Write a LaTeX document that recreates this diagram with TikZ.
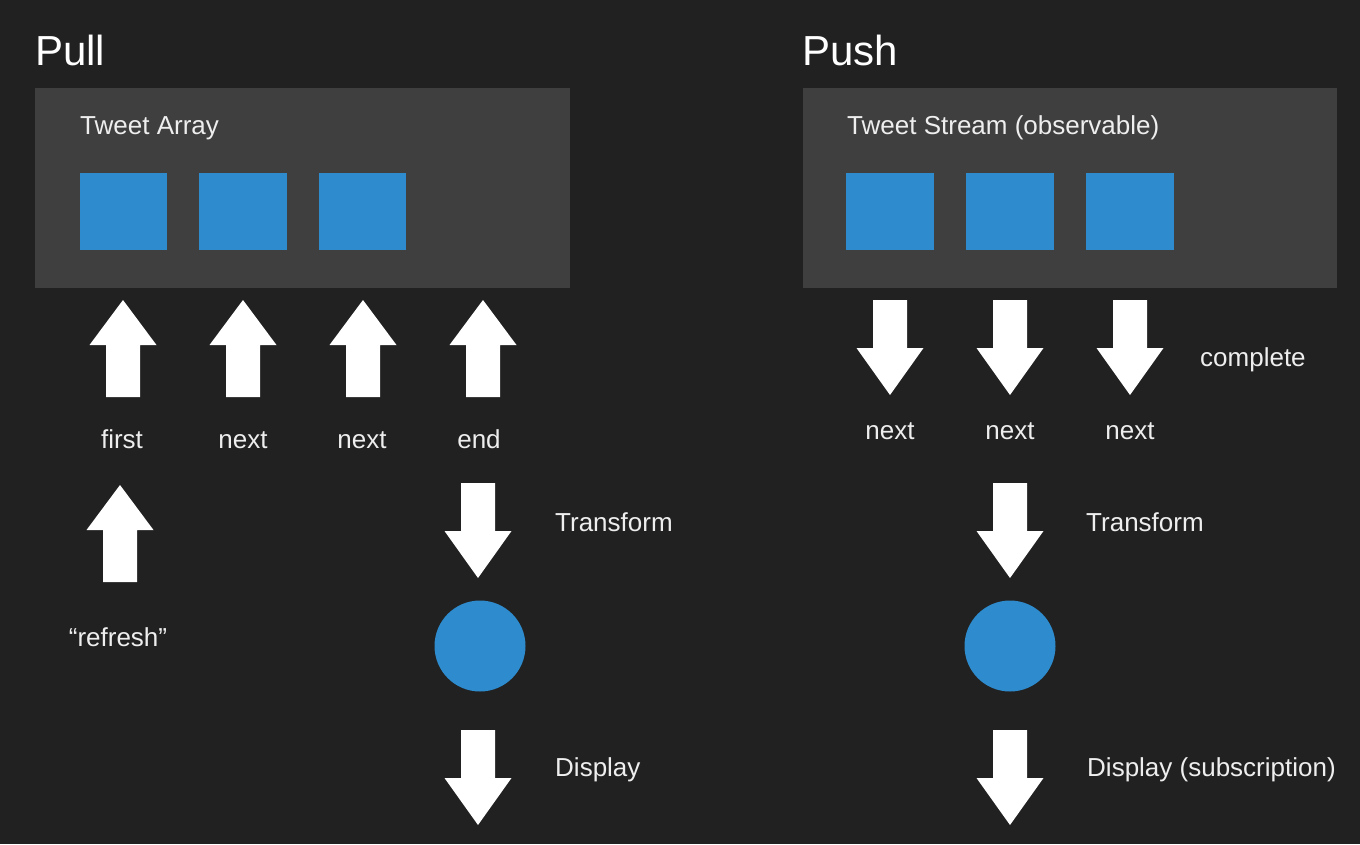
\documentclass[tikz,border=0pt]{standalone}
\usepackage{fontspec}
\setmainfont{Liberation Sans}
\definecolor{bgc}{RGB}{33,33,33}
\definecolor{panelc}{RGB}{63,63,63}
\definecolor{bluec}{RGB}{46,139,205}
\definecolor{txtc}{RGB}{238,238,238}
\begin{document}
\begin{tikzpicture}[x=1pt,y=-1pt,
  panel/.style={fill=panelc},
  item/.style={fill=bluec},
  lbl/.style={inner sep=0pt,text=txtc,font=\fontsize{26}{30}\selectfont},
  ttl/.style={inner sep=0pt,text=white,font=\fontsize{42}{48}\selectfont},
  uparr/.pic={\fill[white] (0,0) -- (33.5,45) -- (17,45) -- (17,97) -- (-17,97) -- (-17,45) -- (-33.5,45) -- cycle;},
  downarr/.pic={\fill[white] (-17,0) -- (17,0) -- (17,48) -- (33.5,48) -- (0,95) -- (-33.5,48) -- (-17,48) -- cycle;}
]
\useasboundingbox (0,0) rectangle (1360,844);
\fill[bgc] (0,0) rectangle (1360,844);

% ---------- Pull ----------
\node[ttl,anchor=base west] (pull) at (35,65) {Pull};
\fill[panel] (35,88) rectangle (570,288);
\node[lbl,anchor=base west] (tarr) at (80,134) {Tweet Array};
\fill[item] (80,173) rectangle (167,250);
\fill[item] (199,173) rectangle (287,250);
\fill[item] (319,173) rectangle (406,250);

\pic at (123,300) {uparr};
\pic at (243,300) {uparr};
\pic at (363,300) {uparr};
\pic at (483,300) {uparr};
\node[lbl,anchor=base] (first) at (122,448) {first};
\node[lbl,anchor=base] (n1) at (243,448) {next};
\node[lbl,anchor=base] (n2) at (362,448) {next};
\node[lbl,anchor=base] (end) at (479,448) {end};

\pic at (120,485) {uparr};
\node[lbl,anchor=base] (refresh) at (118,646) {“refresh”};

\pic at (478,483) {downarr};
\node[lbl,anchor=base west] (tr1) at (555,531) {Transform};
\fill[item] (480,646) circle[radius=45.5];
\pic at (478,730) {downarr};
\node[lbl,anchor=base west] (d1) at (555,776) {Display};

% ---------- Push ----------
\node[ttl,anchor=base west] (push) at (802,65) {Push};
\fill[panel] (803,88) rectangle (1337,288);
\node[lbl,anchor=base west] (tstr) at (847,134) {Tweet Stream (observable)};
\fill[item] (846,173) rectangle (934,250);
\fill[item] (966,173) rectangle (1054,250);
\fill[item] (1086,173) rectangle (1174,250);

\pic at (890,300) {downarr};
\pic at (1010,300) {downarr};
\pic at (1130,300) {downarr};
\node[lbl,anchor=base west] (compl) at (1200,366) {complete};
\node[lbl,anchor=base] (n3) at (890,439) {next};
\node[lbl,anchor=base] (n4) at (1010,439) {next};
\node[lbl,anchor=base] (n5) at (1130,439) {next};

\pic at (1010,483) {downarr};
\node[lbl,anchor=base west] (tr2) at (1086,531) {Transform};
\fill[item] (1010,646) circle[radius=45.5];
\pic at (1010,730) {downarr};
\node[lbl,anchor=base west] (d2) at (1087,776) {Display (subscription)};
\end{tikzpicture}
\end{document}
